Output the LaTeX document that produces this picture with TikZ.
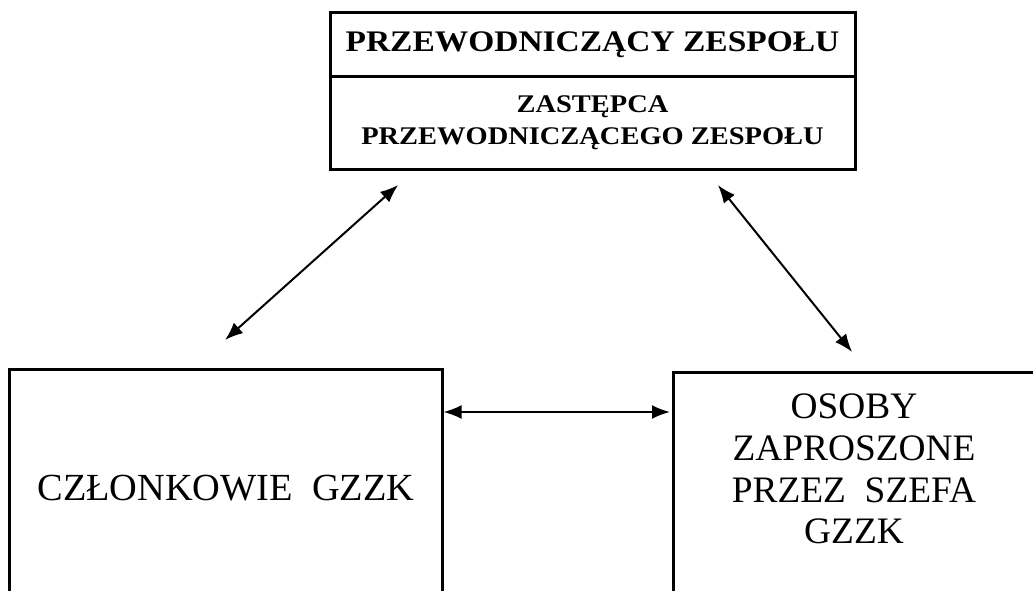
\documentclass[tikz,border=0pt]{standalone}
\usepackage{fontspec}
\setmainfont{Liberation Serif}
\newfontfamily\widefont[FakeStretch=1.12]{Liberation Serif}
\usetikzlibrary{arrows.meta,positioning}

\begin{document}
\begin{tikzpicture}[x=1bp,y=1bp,>={Latex[length=18bp,width=14bp]},node distance=0bp]
\tikzstyle{box}=[draw=black,line width=3bp,rectangle,inner sep=0pt,outer sep=0pt]
\tikzstyle{link}=[<->,line width=2bp,black]
\useasboundingbox (0,0) rectangle (1033,-591);
\node[box,minimum width=525bp,minimum height=64bp,font={\widefont\bfseries\fontsize{30}{32}\selectfont}] (head) at (592.5,-45) {PRZEWODNICZĄCY ZESPOŁU};
\node[box,minimum width=525bp,minimum height=92bp,align=center,font={\widefont\bfseries\fontsize{25.5}{32}\selectfont}][below=of head] (deputy) {ZASTĘPCA\\PRZEWODNICZĄCEGO ZESPOŁU};
\node[box,minimum width=432bp,minimum height=236bp,font={\fontsize{38.5}{42}\selectfont}] (members) at (226,-488) {CZŁONKOWIE\ \ GZZK};
\node[box,minimum width=380bp,minimum height=240bp] (guests) at (863,-493) {};
\node[align=center,inner sep=0pt,font={\fontsize{37.5}{42}\selectfont}] (guestsText) at (854,-469) {OSOBY\\ZAPROSZONE\\PRZEZ\ \ SZEFA\\GZZK};
\draw[link,shorten <=45bp,shorten >=24bp] ([xshift=-34.5bp]members.north) -- ([xshift=-176.5bp]deputy.south);
\draw[link,shorten <=20.6bp,shorten >=27bp] ([xshift=112.5bp]deputy.south) -- ([xshift=6bp]guests.north);
\draw[link,shorten <=1.5bp,shorten >=3bp] ([yshift=76bp]members.east) -- ([yshift=76bp]members.east -| guests.west);
\end{tikzpicture}
\end{document}
